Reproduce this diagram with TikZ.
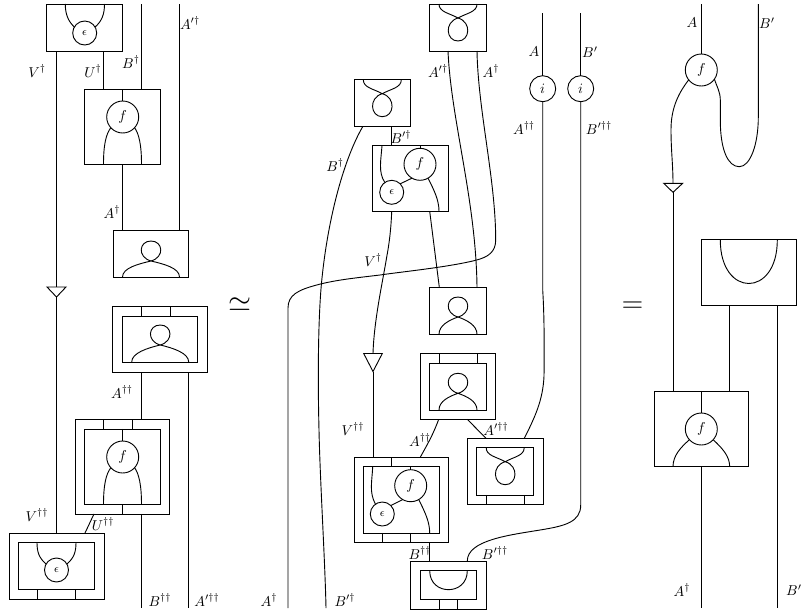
\documentclass[tikz,border=0pt]{standalone}
\tikzset{
  wire/.style={line width=0.64pt},
  bx/.style 2 args={draw,line width=0.64pt,rectangle,inner sep=0pt,outer sep=0pt,minimum width=#1*0.7pt,minimum height=#2*0.7pt},
  circ/.style={draw,line width=0.64pt,circle,inner sep=0pt,outer sep=0pt,minimum size=#1*1.4pt},
  tri/.style={draw,line width=0.64pt,fill=white},
  lab/.style={inner sep=0pt,outer sep=0pt},
  eps/.style={font=\footnotesize}
}
\newcommand\bustshape[4]{% cx, y crossing, half width, y base
  \draw[wire] (#1-#3,#4) .. controls (#1-#3,#4-9) and (#1-#3*0.45,#2+3) .. (#1,#2)
    .. controls (#1+14,#2-4) and (#1+12,#2-20) .. (#1,#2-20)
    .. controls (#1-12,#2-20) and (#1-14,#2-4) .. (#1,#2)
    .. controls (#1+#3*0.45,#2+3) and (#1+#3,#4-9) .. (#1+#3,#4);}
\newcommand\swapshape[3]{% cx, y top, half width
  \draw[wire] (#1-#3,#2) .. controls (#1-#3,#2+8) and (#1-9,#2+9) .. (#1,#2+14)
    .. controls (#1+14,#2+18) and (#1+12,#2+37) .. (#1,#2+37)
    .. controls (#1-12,#2+37) and (#1-14,#2+18) .. (#1,#2+14)
    .. controls (#1+9,#2+9) and (#1+#3,#2+8) .. (#1+#3,#2);}
\begin{document}
\begin{tikzpicture}[x=0.7pt,y=-0.7pt]
\useasboundingbox (0,0) rectangle (802,612);
% ---------- LEFT DIAGRAM ----------
\node[bx={75.5}{47}] (La) at (84.7,27.5) {};
\node[circ=12,eps] (Leps) at (84.7,33) {$\epsilon$};
\draw[wire] (65.3,4) .. controls (65.3,14) and (68,21) .. (Leps.150);
\draw[wire] (104.5,4) .. controls (104.5,14) and (102,21) .. (Leps.30);
\node[bx={75.5}{75}] (Lb) at (122.7,126.5) {};
\node[circ=16] (Lf) at (122.7,117) {$f$};
\draw[wire] (Lb.north) -- (Lf.north);
\draw[wire] (Lf.222) .. controls (106,134) and (103.5,145) .. (103.5,164);
\draw[wire] (Lf.318) .. controls (139,134) and (141.5,145) .. (141.5,164);
\node[bx={75.5}{47}] (Lc) at (151,253.5) {};
\bustshape{151}{261}{28.5}{277}
\node[bx={94.5}{66}] (Ld) at (160.2,339) {};
\node[bx={75.5}{46}] (Ldi) at (160.2,339) {};
\bustshape{160.2}{345}{28.5}{362}
\draw[wire] (Ld.north -| 141.5,0) -- (Ldi.north -| 141.5,0);
\draw[wire] (Ld.north -| 170,0) -- (Ldi.north -| 170,0);
\node[bx={94.5}{94.5}] (Le) at (122.7,466.7) {};
\node[bx={75.5}{75.5}] (Lei) at (122.7,466.7) {};
\node[circ=16] (Lf2) at (122.7,457) {$f$};
\draw[wire] (Lei.north) -- (Lf2.north);
\draw[wire] (Lf2.222) .. controls (106,474) and (103.5,485) .. (103.5,504.5);
\draw[wire] (Lf2.318) .. controls (139,474) and (141.5,485) .. (141.5,504.5);
\draw[wire] (Le.north -| 103.5,0) -- (Lei.north -| 103.5,0);
\draw[wire] (Le.north -| 132,0) -- (Lei.north -| 132,0);
\draw[wire] (Lei.south) -- (Le.south);
\node[bx={95}{66}] (Lg) at (56.5,566) {};
\node[bx={75.5}{47}] (Lgi) at (56.5,566) {};
\node[circ=12,eps] (Leps2) at (56.5,570) {$\epsilon$};
\draw[wire] (37,542.5) .. controls (37,552) and (39,558) .. (Leps2.150);
\draw[wire] (76,542.5) .. controls (76,552) and (74,558) .. (Leps2.30);
\draw[wire] (Lgi.south -| 37.5,0) -- (Lg.south -| 37.5,0);
\draw[wire] (Lgi.south -| 75.5,0) -- (Lg.south -| 75.5,0);
% triangle and wires
\coordinate (LVa) at (56.5,287);
\coordinate (LVb) at (56.5,297);
\draw[tri] (47,287) -- (66,287) -- (LVb) -- cycle;
\draw[wire] (La.south -| LVa) -- (LVa);
\draw[wire] (LVb) -- (Lg.north -| LVb);
\draw[wire] (La.south -| 103.5,0) -- (Lb.north -| 103.5,0);
\coordinate (LBt) at (141.5,4);
\draw[wire] (LBt) -- (Lb.north -| LBt);
\coordinate (LAt) at (179.5,4);
\draw[wire] (LAt) -- (Lc.north -| LAt);
\draw[wire] (Lb.south) -- (Lc.north -| Lb.south);
\draw[wire] (Ld.south -| 141.5,0) -- (Le.north -| 141.5,0);
\coordinate (LAb) at (188.5,608);
\draw[wire] (Ld.south -| LAb) -- (LAb);
\coordinate (LBb) at (141.5,608);
\draw[wire] (Le.south -| LBb) -- (LBb);
\draw[wire] (Le.south -| 94,0) -- (Lg.north -| 85,0);
% labels
\node[lab] (l1) at (37,71) {$V^\dagger$};
\node[lab] (l2) at (93,71) {$U^\dagger$};
\node[lab] (l3) at (131,62) {$B^\dagger$};
\node[lab] (l4) at (190,23) {$A'^\dagger$};
\node[lab] (l5) at (112,212) {$A^\dagger$};
\node[lab] (l6) at (122,392) {$A^{\dagger\dagger}$};
\node[lab] (l7) at (37,515) {$V^{\dagger\dagger}$};
\node[lab] (l8) at (103,524) {$U^{\dagger\dagger}$};
\node[lab] (l9) at (160,600) {$B^{\dagger\dagger}$};
\node[lab] (l10) at (207,600) {$A'^{\dagger\dagger}$};
\node[lab,font=\huge] (sim) at (240,305) {$\simeq$};
% ---------- MIDDLE DIAGRAM ----------
\node[bx={56.5}{47}] (Ma) at (458,27.5) {};
\swapshape{458}{4}{19}
\node[bx={56.5}{47}] (Mb) at (382.3,103.2) {};
\swapshape{382.3}{79.7}{19}
\node[bx={75.5}{65.5}] (Mc) at (410.5,178.5) {};
\node[circ=12,eps] (Meps) at (391.7,192.3) {$\epsilon$};
\node[circ=16] (Mf) at (420,164.3) {$f$};
\draw[wire] (382,145.7) .. controls (381,160) and (378,172) .. (Meps.125);
\draw[wire] (Meps.45) -- (Mf.240);
\draw[wire] (Mf.north) -- (Mc.north -| Mf.north);
\draw[wire] (Mf.300) .. controls (434,190) and (439,200) .. (439,211.3);
\node[bx={56.5}{47}] (Md) at (458,310.7) {};
\bustshape{458}{317}{19}{334.2}
\node[bx={75.5}{66}] (Me) at (458,386.3) {};
\node[bx={56.5}{47}] (Mei) at (458,386.5) {};
\bustshape{458}{393.3}{19}{410}
\draw[wire] (Me.north -| 439,0) -- (Mei.north -| 439,0);
\draw[wire] (Me.north -| 477,0) -- (Mei.north -| 477,0);
\node[bx={75.7}{66}] (Mg) at (505.2,471.3) {};
\node[bx={57}{47.3}] (Mgi) at (505.2,471.3) {};
\swapshape{505.2}{447.7}{19}
\draw[wire] (Mgi.south -| 486,0) -- (Mg.south -| 486,0);
\draw[wire] (Mgi.south -| 524.3,0) -- (Mg.south -| 524.3,0);
\node[bx={94.3}{84.6}] (Mh) at (401.2,500) {};
\node[bx={75.7}{66.3}] (Mhi) at (401.2,499.8) {};
\node[circ=12,eps] (Meps2) at (382.3,514) {$\epsilon$};
\node[circ=16] (Mf2) at (410.7,485.7) {$f$};
\draw[wire] (372.7,466.7) .. controls (372,482) and (369,492) .. (Meps2.125);
\draw[wire] (Meps2.45) -- (Mf2.240);
\draw[wire] (Mf2.north) -- (Mhi.north -| Mf2.north);
\draw[wire] (Mf2.300) .. controls (425,512) and (429.7,522) .. (429.7,533);
\draw[wire] (Mh.north -| 391.7,0) -- (Mhi.north -| 391.7,0);
\draw[wire] (Mhi.south -| 382.3,0) -- (Mh.south -| 382.3,0);
\draw[wire] (Mhi.south -| 410.7,0) -- (Mh.south -| 410.7,0);
\node[bx={75.6}{48}] (Mk) at (448.5,585) {};
\node[bx={56.7}{28.6}] (Mki) at (448.5,585) {};
\draw[wire] (429.7,570.7) .. controls (429.7,596) and (467.3,596) .. (467.3,570.7);
\draw[wire] (Mki.south -| 439,0) -- (Mk.south -| 439,0);
\draw[wire] (Mki.south -| 457.7,0) -- (Mk.south -| 457.7,0);
\node[circ=13] (Mi1) at (542.7,88.7) {$i$};
\node[circ=13] (Mi2) at (580.7,88.7) {$i$};
\coordinate (MAt) at (542.7,13);
\coordinate (MBt) at (580.7,13);
\draw[wire] (MAt) -- (Mi1.north);
\draw[wire] (MBt) -- (Mi2.north);
\coordinate (MAb) at (288,608);
\coordinate (MBb) at (326,608);
% triangle
\coordinate (MVa) at (373,353.5);
\coordinate (MVb) at (373,371.5);
\draw[tri] (363.7,353.5) -- (382.3,353.5) -- (MVb) -- cycle;
\draw[wire] (Mc.south -| 391.7,0) .. controls (391,230) and (389,245) .. (386.7,257) .. controls (383,280) and (374,320) .. (MVa);
\draw[wire] (MVb) -- (Mh.north -| MVb);
\draw[wire] (Mc.south -| 429.7,0) -- (Md.north -| 439.3,0);
\draw[wire] (Ma.south -| 448,0) .. controls (451,120) and (476,200) .. (Md.north -| 477,0);
\draw[wire] (Ma.south -| 477,0) .. controls (478,110) and (495.7,180) .. (495.7,240)
  .. controls (495.7,252) and (488,257) .. (476.7,260)
  .. controls (450,267) and (400,272) .. (380,275)
  .. controls (355,278) and (335,280) .. (316.7,285)
  .. controls (298,290) and (288,295) .. (288,308) -- (MAb);
\draw[wire] (Mb.south -| 362.7,0) .. controls (345,157) and (328,215) .. (321.5,283)
  .. controls (318.5,315) and (317.5,370) .. (319,430)
  .. controls (320,480) and (325,560) .. (MBb);
\draw[wire] (Mb.south -| 391.7,0) -- (Mc.north -| 391.7,0);
\draw[wire] (Me.south -| 438.7,0) .. controls (433,435) and (427,445) .. (Mh.north -| 420,0);
\draw[wire] (Me.south -| 467.3,0) -- (Mg.north -| 486,0);
\draw[wire] (Mi1.south) -- (542.7,290) .. controls (544,310) and (544.5,340) .. (544,376) .. controls (543,400) and (535,417) .. (Mg.north -| 524.3,0);
\draw[wire] (Mi2.south) -- (580.7,505) .. controls (580.7,522) and (565,526) .. (540,530) .. controls (510,535) and (467.3,540) .. (Mk.north -| 467.3,0);
\draw[wire] (Mh.south -| 429.7,0) -- (Mk.north -| 429.7,0);
% labels
\node[lab] (m1) at (438,71) {$A'^\dagger$};
\node[lab] (m2) at (491,71) {$A^\dagger$};
\node[lab] (m3) at (335,165) {$B^\dagger$};
\node[lab] (m4) at (401,137) {$B'^\dagger$};
\node[lab] (m5) at (373,260) {$V^\dagger$};
\node[lab] (m6) at (353,429) {$V^{\dagger\dagger}$};
\node[lab] (m7) at (420,440) {$A^{\dagger\dagger}$};
\node[lab] (m8) at (496,429) {$A'^{\dagger\dagger}$};
\node[lab] (m9) at (420,553) {$B^{\dagger\dagger}$};
\node[lab] (m10) at (495,553) {$B'^{\dagger\dagger}$};
\node[lab] (m11) at (269,600) {$A^\dagger$};
\node[lab] (m12) at (345,600) {$B'^\dagger$};
\node[lab] (m13) at (534,52) {$A$};
\node[lab] (m14) at (590,52) {$B'$};
\node[lab] (m15) at (524,128) {$A^{\dagger\dagger}$};
\node[lab] (m16) at (599,128) {$B'^{\dagger\dagger}$};
\node[lab,font=\huge] (eqq) at (632.5,307) {$=$};
% ---------- RIGHT DIAGRAM ----------
\node[circ=16] (Rf) at (701.3,70) {$f$};
\coordinate (RAt) at (701.3,4);
\coordinate (RBt) at (758.3,4);
\draw[wire] (RAt) -- (Rf.north);
\draw[wire] (RBt) -- (758.3,117) .. controls (758.3,145) and (750,166.7) .. (739.3,166.7)
  .. controls (728,166.7) and (720.3,150) .. (720.3,120) -- (720.3,100) .. controls (720.3,92) and (717,87) .. (Rf.325);
\draw[wire] (Rf.218) .. controls (677,95) and (671,110) .. (671,130) .. controls (671,150) and (673,165) .. (673,183.3);
\coordinate (RVb) at (673,192.3);
\draw[tri] (663.7,183.3) -- (682.7,183.3) -- (RVb) -- cycle;
\node[bx={94.7}{65.7}] (Ra) at (748.7,272.8) {};
\draw[wire] (720.3,240) .. controls (720.3,298) and (777.3,298) .. (777.3,240);
\node[bx={94.4}{75.7}] (Rb) at (701.5,428.8) {};
\node[circ=16] (Rf2) at (701.3,429) {$f$};
\draw[wire] (Rb.north -| Rf2.north) -- (Rf2.north);
\draw[wire] (Rf2.222) .. controls (680,448) and (673,456) .. (673,466.7);
\draw[wire] (Rf2.318) .. controls (722,448) and (729.7,456) .. (729.7,466.7);
\draw[wire] (RVb) -- (Rb.north -| RVb);
\draw[wire] (Ra.south -| 729.7,0) -- (Rb.north -| 729.7,0);
\coordinate (RBb) at (777,608);
\draw[wire] (Ra.south -| RBb) -- (RBb);
\coordinate (RAb) at (701.3,608);
\draw[wire] (Rb.south -| RAb) -- (RAb);
\node[lab] (r1) at (692,23) {$A$};
\node[lab] (r2) at (767,23) {$B'$};
\node[lab] (r3) at (682,590) {$A^\dagger$};
\node[lab] (r4) at (794,590) {$B'$};
\end{tikzpicture}
\end{document}
